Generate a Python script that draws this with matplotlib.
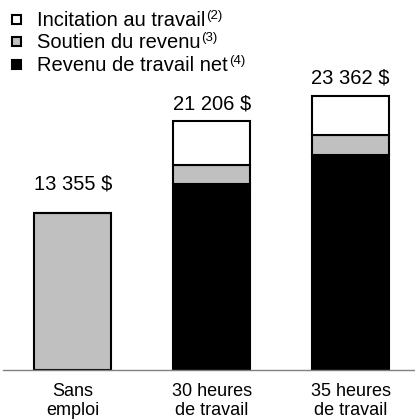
import numpy as np
import matplotlib.pyplot as plt

plt.rcParams['font.family'] = ['Liberation Sans', 'DejaVu Sans']

# Data (dollars)
categories = ['Sans\nemploi', '30 heures\nde travail', '35 heures\nde travail']
revenu_travail_net = [0, 15850, 18340]
soutien_revenu = [13355, 1620, 1700]
incitation_travail = [0, 3736, 3322]
totals = [13355, 21206, 23362]
total_labels = ['13 355 $', '21 206 $', '23 362 $']

legend_labels = ['Incitation au travail', 'Soutien du revenu', 'Revenu de travail net']
legend_notes = ['(2)', '(3)', '(4)']

GRAY = '#c0c0c0'

fig = plt.figure(figsize=(4.15, 4.19), dpi=100)
W, H = 415, 419
base_px = 369.5
ax = fig.add_axes([3 / W, (H - base_px) / H, 412 / W, base_px / H])

x = np.arange(len(categories))
width = 0.555
ax.bar(x, revenu_travail_net, width, color='black', edgecolor='black', linewidth=1.5)
ax.bar(x, soutien_revenu, width, bottom=revenu_travail_net, color=GRAY,
       edgecolor='black', linewidth=1.5)
bottom2 = np.array(revenu_travail_net) + np.array(soutien_revenu)
ax.bar(x, incitation_travail, width, bottom=bottom2, color='white',
       edgecolor='black', linewidth=1.5)

offsets = [14, 6, 6]
for i in x:
    ax.annotate(total_labels[i], (i, totals[i]), xytext=(0, offsets[i]),
                textcoords='offset points', ha='center', va='bottom', fontsize=14.5)

ax.set_xlim(-0.504, 2.464)
ax.set_ylim(0, base_px * 85.5)
for s in ['top', 'right', 'left']:
    ax.spines[s].set_visible(False)
ax.spines['bottom'].set_color('#808080')
ax.spines['bottom'].set_linewidth(1.0)
ax.set_yticks([])
ax.set_xticks(x)
ax.set_xticklabels(categories, fontsize=13, linespacing=1.15)
ax.tick_params(axis='x', length=0, pad=10)

# legend as text with square markers
fills = ['white', GRAY, 'black']
ys = [20, 42, 65]
fig.canvas.draw()
for lab, note, fc, yp in zip(legend_labels, legend_notes, fills, ys):
    fig.patches.append(plt.Rectangle((12 / W, 1 - (yp + 4.5) / H), 9 / W, 9 / H,
                                     transform=fig.transFigure, facecolor=fc,
                                     edgecolor='black', linewidth=1.5))
    t = fig.text(37 / W, 1 - (yp + 6) / H, lab, fontsize=14.5, va='baseline', ha='left')
    bb = t.get_window_extent(renderer=fig.canvas.get_renderer())
    fig.text(bb.x1 / W + 1 / W, 1 - (yp - 1) / H, note, fontsize=9.5,
             va='baseline', ha='left')

fig.savefig('out.png', dpi=100)
